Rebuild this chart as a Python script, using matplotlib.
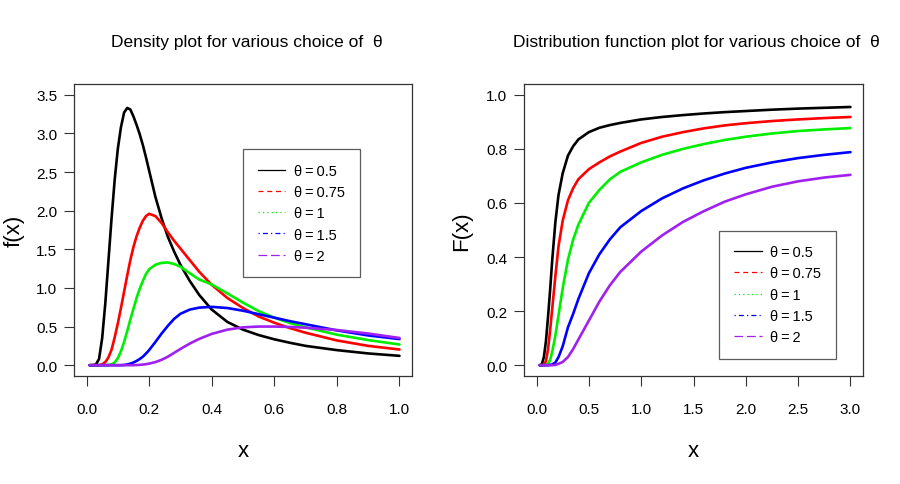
import matplotlib
matplotlib.use("Agg")
import matplotlib.pyplot as plt
from matplotlib.lines import Line2D

plt.rcParams['font.family'] = ['Liberation Sans', 'DejaVu Sans']

# Density panel
x_dens = [0.01, 0.02, 0.03, 0.04, 0.05, 0.06, 0.07, 0.08, 0.09, 0.10, 0.11, 0.12,
          0.13, 0.14, 0.15, 0.16, 0.17, 0.18, 0.19, 0.20, 0.22, 0.24, 0.26, 0.28,
          0.30, 0.33, 0.36, 0.40, 0.45, 0.50, 0.55, 0.60, 0.65, 0.70, 0.80, 0.90, 1.00]
dens_05 = [0, 0, 0.01, 0.08, 0.35, 0.80, 1.35, 1.90, 2.40, 2.80, 3.08, 3.27,
           3.33, 3.31, 3.22, 3.11, 2.99, 2.85, 2.69, 2.52, 2.18, 1.90, 1.66, 1.47,
           1.30, 1.09, 0.91, 0.72, 0.56, 0.46, 0.39, 0.335, 0.29, 0.25, 0.195, 0.152, 0.121]
dens_075 = [0, 0, 0, 0, 0.01, 0.04, 0.10, 0.20, 0.36, 0.54, 0.74, 0.95,
            1.16, 1.36, 1.53, 1.67, 1.78, 1.87, 1.93, 1.96, 1.93, 1.84, 1.72, 1.61,
            1.51, 1.36, 1.21, 1.04, 0.87, 0.74, 0.63, 0.55, 0.48, 0.42, 0.32, 0.25, 0.203]
dens_1 = [0, 0, 0, 0, 0, 0, 0.003, 0.01, 0.035, 0.09, 0.18, 0.30,
          0.44, 0.59, 0.73, 0.87, 0.99, 1.09, 1.18, 1.24, 1.30, 1.325, 1.33, 1.31,
          1.275, 1.19, 1.11, 1.045, 0.93, 0.81, 0.70, 0.615, 0.545, 0.49, 0.395, 0.325, 0.268]
dens_15 = [0, 0, 0, 0, 0, 0, 0, 0, 0, 0, 0, 0.003,
           0.01, 0.02, 0.035, 0.055, 0.08, 0.11, 0.15, 0.195, 0.30, 0.41, 0.51, 0.60,
           0.665, 0.72, 0.745, 0.755, 0.74, 0.705, 0.66, 0.615, 0.57, 0.53, 0.45, 0.385, 0.338]
dens_2 = [0, 0, 0, 0, 0, 0, 0, 0, 0, 0, 0, 0,
          0, 0, 0, 0.002, 0.004, 0.008, 0.013, 0.02, 0.04, 0.07, 0.11, 0.16,
          0.21, 0.28, 0.34, 0.405, 0.46, 0.49, 0.50, 0.50, 0.495, 0.485, 0.455, 0.41, 0.352]

# Distribution function panel
x_cdf = [0.03, 0.05, 0.07, 0.09, 0.11, 0.13, 0.15, 0.18, 0.21, 0.25, 0.30, 0.35,
         0.40, 0.50, 0.60, 0.70, 0.80, 1.00, 1.20, 1.40, 1.60, 1.80, 2.00, 2.25,
         2.50, 2.75, 3.00]
cdf_05 = [0, 0.003, 0.03, 0.09, 0.18, 0.28, 0.39, 0.53, 0.63, 0.71, 0.775, 0.81,
          0.835, 0.862, 0.878, 0.888, 0.896, 0.909, 0.918, 0.925, 0.931, 0.936, 0.940, 0.945,
          0.949, 0.952, 0.955]
cdf_075 = [0, 0, 0.003, 0.015, 0.06, 0.13, 0.21, 0.33, 0.44, 0.535, 0.61, 0.655,
           0.688, 0.725, 0.75, 0.772, 0.79, 0.822, 0.845, 0.862, 0.876, 0.887, 0.895, 0.903,
           0.909, 0.914, 0.918]
cdf_1 = [0, 0, 0, 0.001, 0.005, 0.02, 0.05, 0.11, 0.185, 0.285, 0.39, 0.465,
         0.52, 0.60, 0.648, 0.687, 0.715, 0.75, 0.778, 0.80, 0.818, 0.833, 0.845, 0.857,
         0.866, 0.872, 0.877]
cdf_15 = [0, 0, 0, 0, 0, 0.001, 0.003, 0.01, 0.03, 0.07, 0.14, 0.19,
          0.245, 0.34, 0.41, 0.465, 0.51, 0.57, 0.617, 0.654, 0.684, 0.709, 0.73, 0.75,
          0.766, 0.778, 0.788]
cdf_2 = [0, 0, 0, 0, 0, 0, 0, 0.001, 0.005, 0.012, 0.03, 0.06,
         0.095, 0.165, 0.235, 0.295, 0.345, 0.42, 0.48, 0.53, 0.57, 0.605, 0.632, 0.66,
         0.68, 0.694, 0.704]

labels = ["\u03b8\u2009=\u20090.5", "\u03b8\u2009=\u20090.75", "\u03b8\u2009=\u20091",
          "\u03b8\u2009=\u20091.5", "\u03b8\u2009=\u20092"]
colors = ["black", "#ff0000", "#00ee00", "#0000ff", "#a020f0"]
legend_styles = ["-", (0, (4, 3)), (0, (1, 2.5)), (0, (1, 2.5, 4, 2.5)), (0, (7, 3))]

fig = plt.figure(figsize=(9, 4.85), dpi=100)
ax1 = fig.add_axes([74 / 900, 1 - 377 / 485, 338 / 900, 292 / 485])
ax2 = fig.add_axes([524 / 900, 1 - 377 / 485, 339 / 900, 292 / 485])

for ys, c in zip([dens_05, dens_075, dens_1, dens_15, dens_2], colors):
    ax1.plot(x_dens, ys, color=c, lw=1.9, solid_capstyle="round", solid_joinstyle="round")
for ys, c in zip([cdf_05, cdf_075, cdf_1, cdf_15, cdf_2], colors):
    ax2.plot(x_cdf, ys, color=c, lw=1.9, solid_capstyle="round", solid_joinstyle="round")

ax1.set_xlim(-0.04, 1.04)
ax1.set_ylim(-0.14, 3.64)
ax1.set_xticks([0, 0.2, 0.4, 0.6, 0.8, 1.0])
ax1.set_yticks([0, 0.5, 1.0, 1.5, 2.0, 2.5, 3.0, 3.5])
ax2.set_xlim(-0.12, 3.12)
ax2.set_ylim(-0.04, 1.04)
ax2.set_xticks([0, 0.5, 1.0, 1.5, 2.0, 2.5, 3.0])
ax2.set_yticks([0, 0.2, 0.4, 0.6, 0.8, 1.0])

for ax in (ax1, ax2):
    ax.xaxis.set_major_formatter(matplotlib.ticker.FormatStrFormatter("%.1f"))
    ax.yaxis.set_major_formatter(matplotlib.ticker.FormatStrFormatter("%.1f"))
    for s in ax.spines.values():
        s.set_linewidth(0.9)
        s.set_color("#333333")
    ax.tick_params(direction="out", length=7, width=0.8, labelsize=11, color="#333333")
    ax.tick_params(axis="x", pad=12)
    ax.tick_params(axis="y", pad=5)
    ax.set_xlabel("x", fontsize=16, va="center")
    ax.xaxis.set_label_coords(0.5, -0.256)

ax1.set_ylabel("f(x)", fontsize=16, va="center")
ax1.yaxis.set_label_coords(-0.178, 0.5)
ax2.set_ylabel("F(x)", fontsize=16, va="center")
ax2.yaxis.set_label_coords(-0.184, 0.5)

fig.text(247 / 900, 1 - 42 / 485, "Density plot for various choice of  \u03b8",
         ha="center", va="center", fontsize=12.5)
fig.text(696 / 900, 1 - 42 / 485, "Distribution function plot for various choice of  \u03b8",
         ha="center", va="center", fontsize=12.5)

handles = [Line2D([], [], color=c, lw=0.9, linestyle=ls) for c, ls in zip(colors, legend_styles)]
for ax, anchor in ((ax1, (0.5, 0.777)), (ax2, (0.576, 0.498))):
    leg = ax.legend(handles, labels, loc="upper left", bbox_to_anchor=anchor,
                    fontsize=10.5, frameon=True, fancybox=False, borderpad=1.0,
                    handlelength=1.9, handletextpad=0.6, labelspacing=0.5,
                    borderaxespad=0)
    leg.get_frame().set_edgecolor("#333333")
    leg.get_frame().set_linewidth(0.9)

fig.savefig("out.png", dpi=100)
